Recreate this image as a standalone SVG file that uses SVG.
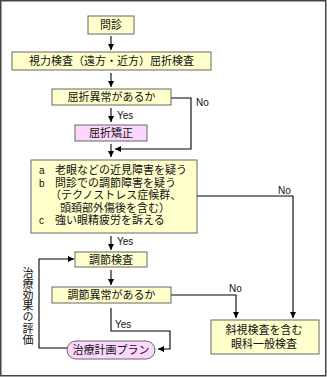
<svg xmlns="http://www.w3.org/2000/svg" width="327" height="377" viewBox="0 0 327 377">
<style>
.box{fill:#ffffcc;stroke:#666;stroke-width:1}
.pink{fill:#fcd6fc;stroke:#666;stroke-width:1}
.jp{font-family:"Noto Sans CJK JP","Noto Sans CJK SC",sans-serif;font-size:11px;fill:#111}
.jl{font-family:"Liberation Sans","Noto Sans CJK JP",sans-serif;font-size:11px;fill:#111}
.lat{font-family:"Liberation Sans",Arial,sans-serif;font-size:10px;fill:#111}
.c{text-anchor:middle}
.vt{writing-mode:vertical-rl;letter-spacing:0.2px}
.ln{fill:none;stroke:#000;stroke-width:1.1}
</style>
<defs>
<marker id="ah" markerUnits="userSpaceOnUse" markerWidth="7" markerHeight="6" refX="6" refY="3" orient="auto">
<path d="M0,0 L6,3 L0,6 z" fill="#000"/>
</marker>
</defs>
<rect x="0.75" y="0.75" width="325" height="375" fill="#fff" stroke="#444" stroke-width="1.5"/>

<g id="connectors">
<path class="ln" d="M111,36 V50" marker-end="url(#ah)"/>
<path class="ln" d="M111,73 V87" marker-end="url(#ah)"/>
<path class="ln" d="M111,108 V122" marker-end="url(#ah)"/>
<path class="ln" d="M171,98 H191 V149 H115" marker-end="url(#ah)"/>
<path class="ln" d="M111,144 V157" marker-end="url(#ah)"/>
<path class="ln" d="M197,196 H293 V318" marker-end="url(#ah)"/>
<path class="ln" d="M111,236 V250" marker-end="url(#ah)"/>
<path class="ln" d="M111,270 V285" marker-end="url(#ah)"/>
<path class="ln" d="M171,295 H236 V318" marker-end="url(#ah)"/>
<path class="ln" d="M111,308 V331 H170 V349 H158" marker-end="url(#ah)"/>
<path class="ln" d="M67,348 H39 V259 H74" marker-end="url(#ah)"/>
<text class="lat" x="117" y="119">Yes</text>
<text class="lat" x="196" y="106">No</text>
<text class="lat" x="278" y="194">No</text>
<text class="lat" x="117" y="245">Yes</text>
<text class="lat" x="229" y="292">No</text>
<text class="lat" x="115" y="328">Yes</text>
<text class="jp vt" x="28" y="267">治療効果の評価</text>
</g>

<g id="n1"><rect class="box" x="88" y="16" width="46" height="18"/><text class="jp c" x="111" y="29">問診</text></g>
<g id="n2"><rect class="box" x="12" y="52" width="199" height="18"/><text class="jp c" x="111.5" y="65">視力検査（遠方・近方）屈折検査</text></g>
<g id="n3"><rect class="box" x="52" y="89" width="119" height="16"/><text class="jp c" x="111.5" y="101">屈折異常があるか</text></g>
<g id="n4"><rect class="pink" x="75" y="125" width="72" height="16"/><text class="jp c" x="111" y="137">屈折矯正</text></g>
<g id="n5"><rect class="box" x="31" y="160" width="166" height="73"/>
<text class="lat" x="39" y="174">a</text><text class="jl" x="55" y="174">老眼などの近見障害を疑う</text>
<text class="lat" x="39" y="186.5">b</text><text class="jl" x="55" y="186.5">問診での調節障害を疑う</text>
<text class="jl" x="50" y="199">（テクノストレス症候群、</text>
<text class="jl" x="60" y="211.5">頭頚部外傷後を含む）</text>
<text class="lat" x="39" y="224">c</text><text class="jl" x="55" y="224">強い眼精疲労を訴える</text>
</g>
<g id="n6"><rect class="box" x="75" y="252" width="72" height="15"/><text class="jp c" x="111" y="263.5">調節検査</text></g>
<g id="n7"><rect class="box" x="52" y="287" width="119" height="16"/><text class="jp c" x="111.5" y="299">調節異常があるか</text></g>
<g id="n8"><rect class="box" x="211" y="320" width="108" height="34"/><text class="jl c" x="264" y="334">斜視検査を含む</text><text class="jl c" x="264" y="348">眼科一般検査</text></g>
<g id="n9"><rect class="pink" x="67" y="341" width="88" height="18" rx="9" ry="9"/><text class="jp c" x="111" y="354">治療計画プラン</text></g>
</svg>
